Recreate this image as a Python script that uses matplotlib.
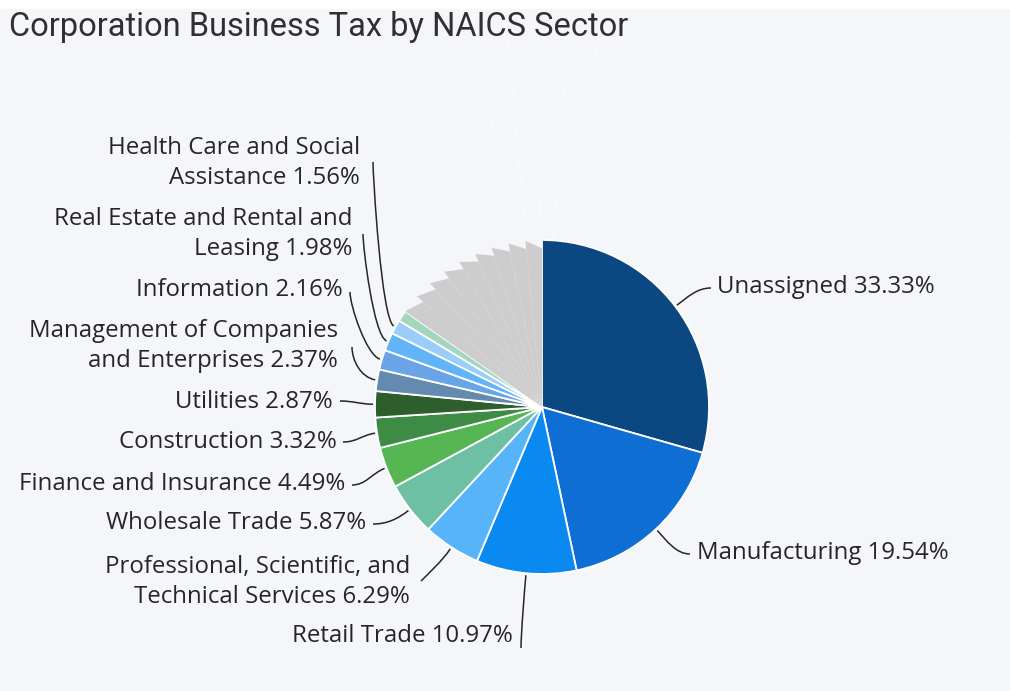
import numpy as np
import matplotlib
matplotlib.use('Agg')
import matplotlib.pyplot as plt
from matplotlib.patches import Polygon, PathPatch
from matplotlib.path import Path

# slice values (labelled sectors, one thin unlabelled mint slice, grey remainder)
sectors = ['Unassigned', 'Manufacturing', 'Retail Trade',
           'Professional, Scientific, and\nTechnical Services', 'Wholesale Trade',
           'Finance and Insurance', 'Construction', 'Utilities',
           'Management of Companies\nand Enterprises', 'Information',
           'Real Estate and Rental and\nLeasing', 'Health Care and Social\nAssistance']
share = [33.33, 19.54, 10.97, 6.29, 5.87, 4.49, 3.32, 2.87, 2.37, 2.16, 1.98, 1.56]
colors = ['#0B4780', '#0E6ED4', '#0A8AF0', '#58B4F8', '#6EC0A5', '#56B654',
          '#3E8B46', '#2E5E2C', '#658AAF', '#68A4E6', '#60B4F7', '#9ACDF8']
unlabelled = [1.2]
unlabelled_colors = ['#A2D7BE']
grey_share = [2.05, 2.0, 1.98, 1.95, 1.92, 1.9, 1.87, 1.85, 1.8]

# label placement (pixel coords, y down): x, y, ha, leader end x, end y, hook
label_pos = [
    (717, 287, 'left', 711, 288, 'h'),
    (697, 553, 'left', 690, 554, 'h'),
    (513, 636, 'right', 521, 648, 'v'),
    (410, 582, 'right', 421, 581, 'd'),
    (366, 523, 'right', 373, 524, 'h'),
    (345, 484, 'right', 352, 485, 'h'),
    (337, 442, 'right', 343, 442, 'h'),
    (333, 402, 'right', 340, 401, 'h'),
    (338, 346, 'right', 352, 347, 'v'),
    (343, 290, 'right', 350, 292, 'v'),
    (352, 234, 'right', 363, 234, 'v'),
    (360, 163, 'right', 373, 162, 'v'),
]

bg = '#F4F6F9'
fig = plt.figure(figsize=(10.1, 6.91), dpi=100, facecolor='white')
ax = fig.add_axes([0, 0, 1, 1])
ax.set_facecolor(bg)

vals = share + unlabelled + grey_share
cols = colors + unlabelled_colors + ['#CDCDCD'] * len(grey_share)
cx, cy, R = 542, 407, 167
wedges, _ = ax.pie(vals, colors=cols, startangle=-90, counterclock=True,
                   center=(cx, cy), radius=R,
                   wedgeprops=dict(edgecolor='white', linewidth=1.3))
ax.set_xlim(0, 1010)
ax.set_ylim(691, 0)
ax.axis('off')
ax.add_patch(plt.Rectangle((0, 9), 1010, 691, color=bg, zorder=-5))

# faint rays in the background (hidden leader lines of the grey slices)
for a in np.linspace(-100, -30, 16):
    t = np.radians(a)
    ax.plot([cx + 0.9 * R * np.cos(t), cx + 4.5 * R * np.cos(t)],
            [cy + 0.9 * R * np.sin(t), cy + 4.5 * R * np.sin(t)],
            color='white', lw=1.0, alpha=0.35, zorder=-4)

# grey remainder: drawn as flat triangles, gives the saw edge seen in the picture
n_col = len(share) + len(unlabelled)
for w in wedges[n_col:]:
    w.set_visible(False)
    t1, t2 = np.radians(w.theta1), np.radians(w.theta2)
    pts = [(cx, cy),
           (cx + R * np.cos(t1), cy + R * np.sin(t1)),
           (cx + 0.95 * R * np.cos(t2), cy + 0.95 * R * np.sin(t2))]
    ax.add_patch(Polygon(pts, closed=True, facecolor='#CDCDCD', edgecolor='none', zorder=1))

lab_font = dict(family='Open Sans', fontsize=17.3, color='#262626')
for i, (name, p) in enumerate(zip(sectors, share)):
    x, y, ha, ex, ey, hook = label_pos[i]
    ax.text(x, y, f'{name} {p:.2f}%', ha=ha, va='center', linespacing=1.3, **lab_font)
    w = wedges[i]
    tm = np.radians((w.theta1 + w.theta2) / 2)
    ux, uy = np.cos(tm), np.sin(tm)
    p0 = (cx + (R + 2) * ux, cy + (R + 2) * uy)
    p1 = (p0[0] + 14 * ux, p0[1] + 14 * uy)
    side = 1 if ha == 'right' else -1
    if hook == 'h':
        p2 = (ex + side * 14, ey)
    elif hook == 'v':
        p2 = (ex, ey + (14 if ey < p0[1] else -14))
    else:
        p2 = (ex + side * 6, ey - 6)
    path = Path([p0, p1, p2, (ex, ey)], [Path.MOVETO, Path.CURVE4, Path.CURVE4, Path.CURVE4])
    ax.add_patch(PathPatch(path, facecolor='none', edgecolor='#262626', linewidth=1.1))

ax.text(9, 27, 'Corporation Business Tax by NAICS Sector', ha='left', va='center',
        family='Roboto', fontsize=23.5, color='#303030')

fig.savefig('out.png', dpi=100, facecolor='white')
